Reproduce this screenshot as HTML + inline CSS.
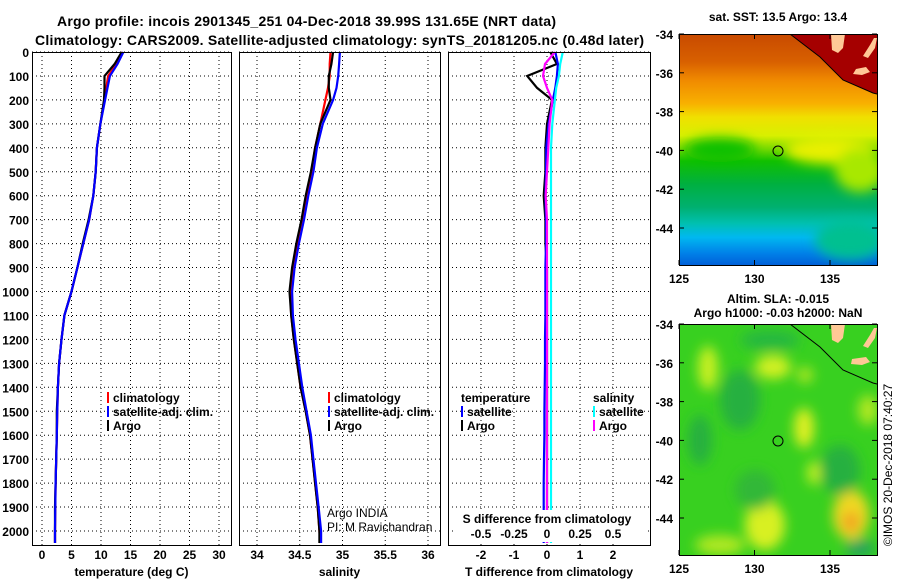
<!DOCTYPE html>
<html><head><meta charset="utf-8"><style>
body{margin:0;background:#fff;}
svg{display:block;font-family:"Liberation Sans",sans-serif;}
.b{font-weight:bold;}
</style></head><body>
<svg id="c" width="900" height="580" viewBox="0 0 900 580">
<defs>
<linearGradient id="sstg" x1="0" y1="0" x2="0" y2="1">
<stop offset="0" stop-color="#c84a00"/><stop offset="0.12" stop-color="#d86000"/>
<stop offset="0.2" stop-color="#f08a00"/><stop offset="0.3" stop-color="#f8b000"/>
<stop offset="0.36" stop-color="#f0e000"/><stop offset="0.44" stop-color="#d8f000"/>
<stop offset="0.5" stop-color="#70d800"/><stop offset="0.55" stop-color="#10c000"/>
<stop offset="0.65" stop-color="#00b040"/><stop offset="0.75" stop-color="#00b070"/>
<stop offset="0.82" stop-color="#00c0b0"/><stop offset="0.88" stop-color="#00b8f0"/>
<stop offset="0.95" stop-color="#0080e8"/><stop offset="1" stop-color="#0060d8"/>
</linearGradient>
<filter id="bl" x="-50%" y="-50%" width="200%" height="200%"><feGaussianBlur stdDeviation="6"/></filter>
<clipPath id="m1c"><rect x="679" y="34" width="198" height="231"/></clipPath>
<clipPath id="m2c"><rect x="679" y="324" width="198" height="231"/></clipPath>
</defs>
<g id="root"></g>
</svg>
<script>
const depths=[0,50,100,150,200,300,400,500,600,700,800,900,1000,1100,1200,1300,1400,1500,1600,1700,1800,1900,2000,2050];
const climTemp=[13.6,12.6,11.2,10.9,10.6,9.9,9.3,9.1,8.7,8.0,7.0,6.0,5.0,3.8,3.3,2.9,2.7,2.6,2.5,2.4,2.3,2.25,2.2,2.2];
const satTemp=[13.8,12.8,11.5,11.1,10.7,9.9,9.3,9.1,8.7,8.0,7.0,6.0,5.0,3.8,3.3,2.9,2.7,2.6,2.5,2.4,2.3,2.25,2.2,2.2];
const argoTemp=[13.5,12.3,10.6,10.6,10.5,9.9,9.3,9.1,8.7,7.9,6.9,6.0,5.0,3.8,3.3,2.9,2.7,2.5,2.5,2.4,2.3,2.2,2.2,2.2];
const climSal=[34.86,34.85,34.85,34.83,34.80,34.74,34.68,34.64,34.58,34.53,34.47,34.42,34.39,34.40,34.43,34.47,34.51,34.57,34.62,34.65,34.68,34.71,34.73,34.74];
const satSal=[34.97,34.96,34.95,34.93,34.89,34.77,34.70,34.66,34.60,34.55,34.49,34.44,34.41,34.42,34.45,34.49,34.53,34.58,34.63,34.66,34.69,34.72,34.75,34.75];
const argoSal=[34.89,34.87,34.84,34.84,34.86,34.74,34.68,34.63,34.57,34.52,34.46,34.41,34.38,34.40,34.43,34.47,34.51,34.57,34.62,34.65,34.68,34.71,34.73,34.73];
const tDiffArgo=[0.1,0.3,-0.6,-0.3,0.15,0.0,-0.05,-0.05,-0.1,-0.05,-0.05,0,0,0,0,0,0,0,0,0,0,0,0,0];
const tDiffSat=[0.25,0.33,0.3,0.25,0.18,0.05,-0.02,-0.03,-0.05,-0.03,-0.03,-0.05,-0.05,-0.05,-0.06,-0.06,-0.07,-0.08,-0.08,-0.09,-0.1,-0.1,-0.1,-0.1];
const sDiffArgo=[0.06,-0.015,-0.03,0.0,0.04,0.02,0.01,0.0,-0.01,0,0,0,0,0,0,0,0,0,0,0,0,0,0,0];
const sDiffSat=[0.12,0.1,0.09,0.07,0.06,0.04,0.03,0.03,0.03,0.03,0.03,0.03,0.03,0.03,0.03,0.03,0.03,0.03,0.03,0.03,0.03,0.03,0.03,0.03];
const depthTicks=[0,100,200,300,400,500,600,700,800,900,1000,1100,1200,1300,1400,1500,1600,1700,1800,1900,2000];
const tempTicks=[0,5,10,15,20,25,30];
const salTicks=[34,34.5,35,35.5,36];
const tdTicks=[-2,-1,0,1,2];
const sdTicks=[-0.5,-0.25,0,0.25,0.5];
const lonTicks=[125,130,135];
const latTicks=[-34,-36,-38,-40,-42,-44];

const NS='http://www.w3.org/2000/svg';
const root=document.getElementById('root');
function el(t,a,p){const e=document.createElementNS(NS,t);for(const k in a)e.setAttribute(k,a[k]);(p||root).appendChild(e);return e;}
function txt(s,x,y,size,anchor,bold,p){const e=el('text',{x:x,y:y,'font-size':size,'text-anchor':anchor||'start','font-weight':bold?'bold':'normal'},p);e.textContent=s;return e;}
const yD=d=>52+d*0.2395;
const PT=545;
const xT=v=>42+v*5.9, xS=v=>257+(v-34)*85.5, xTD=v=>547+v*33, xSD=v=>547+v*132;

let t=txt('Argo profile: incois 2901345_251 04-Dec-2018 39.99S 131.65E (NRT data)',57,26,14,'start',true);
t.setAttribute('textLength','499');

t=txt('Climatology: CARS2009. Satellite-adjusted climatology: synTS_20181205.nc (0.48d later)',35,45,14,'start',true);
t.setAttribute('textLength','609');


const yl=el('g',{});

depthTicks.forEach(d=>txt(String(d),29,yD(d)+5,12,'end',true,yl));

function panel(name,x0,x1,xf,ticks,series,xlabel,tickFmt){
  const g=el('g',{});
  
  ticks.forEach(v=>{const x=xf(v);el('line',{x1:x,y1:52,x2:x,y2:PT,stroke:'#000','stroke-width':1,'stroke-dasharray':'1 3'},g);});
  depthTicks.forEach(d=>{const y=yD(d);el('line',{x1:x0,y1:y,x2:x1,y2:y,stroke:'#000','stroke-width':1,'stroke-dasharray':'1 3'},g);});
  series.forEach(s=>{
    const pts=s.vals.map((v,i)=>s.f(v).toFixed(1)+','+yD(depths[i]).toFixed(1)).join(' ');
    const pl=el('polyline',{points:pts,fill:'none',stroke:s.c,'stroke-width':2.2},g);
    
  });
  el('rect',{x:x0+0.5,y:52.5,width:x1-x0,height:PT-52,fill:'none',stroke:'#000','stroke-width':1},g);
  if(xlabel){
    const tl=el('g',{},g);
    ticks.forEach(v=>txt(tickFmt?tickFmt(v):String(v),xf(v),559,12,'middle',true,tl));
    const xl=txt(xlabel,(x0+x1)/2,576,12,'middle',true,g);
    
  }
  return g;
}
panel('temperature-panel',32,231,xT,tempTicks,[
 {vals:climTemp,f:xT,c:'#ff0000',n:'temp-climatology-line'},
 {vals:argoTemp,f:xT,c:'#000',n:'temp-argo-line'},
 {vals:satTemp,f:xT,c:'#0000ff',n:'temp-satellite-line'}],'temperature (deg C)');
panel('salinity-panel',239,440,xS,salTicks,[
 {vals:climSal,f:xS,c:'#ff0000',n:'sal-climatology-line'},
 {vals:argoSal,f:xS,c:'#000',n:'sal-argo-line'},
 {vals:satSal,f:xS,c:'#0000ff',n:'sal-satellite-line'}],'salinity');
const dp=panel('difference-panel',448,650,xTD,tdTicks,[
 {vals:tDiffArgo,f:xTD,c:'#000',n:'tdiff-argo-line'},
 {vals:tDiffSat,f:xTD,c:'#0000ff',n:'tdiff-satellite-line'},
 {vals:sDiffSat,f:xSD,c:'#00ffff',n:'sdiff-satellite-line'},
 {vals:sDiffArgo,f:xSD,c:'#ff00ff',n:'sdiff-argo-line'}],'T difference from climatology');
const sdl=el('g',{});
el('rect',{x:455,y:510,width:190,height:32,fill:'#fff'},sdl);
txt('S difference from climatology',547,523,12,'middle',true,sdl);
sdTicks.forEach(v=>txt(String(v),xSD(v),538,12,'middle',true,sdl));

function legend(name,x,y,items){
  const g=el('g',{});
  items.forEach((it,i)=>{
    const yy=y+i*14;
    if(it.c) el('rect',{x:x,y:yy-10,width:2,height:11,fill:it.c},g);
    txt(it.t,x+(it.c?6:0),yy,12,'start',true,g);
  });
}
legend('temp-legend',107,402,[{c:'#f00',t:'climatology'},{c:'#00f',t:'satellite-adj. clim.'},{c:'#000',t:'Argo'}]);
legend('sal-legend',328,402,[{c:'#f00',t:'climatology'},{c:'#00f',t:'satellite-adj. clim.'},{c:'#000',t:'Argo'}]);
legend('tdiff-legend',461,402,[{c:null,t:'temperature'},{c:'#00f',t:'satellite'},{c:'#000',t:'Argo'}]);
legend('sdiff-legend',593,402,[{c:null,t:'salinity'},{c:'#0ff',t:'satellite'},{c:'#f0f',t:'Argo'}]);
const cr=el('g',{});
txt('Argo INDIA',327,517,12,'start',false,cr);
txt('PI: M Ravichandran',327,531,12,'start',false,cr);

const xL=v=>679+(v-125)*15.1;
function mapAxes(name,top,title1,title2){
  const g=el('g',{});
  el('rect',{x:679.5,y:top+0.5,width:198,height:231,fill:'none',stroke:'#000'},g);
  latTicks.forEach(l=>{const y=top+(-34-l)*19.4;el('line',{x1:679,y1:y,x2:684,y2:y,stroke:'#000'},g);el('line',{x1:872,y1:y,x2:877,y2:y,stroke:'#000'},g);txt(String(l),673,y+5,12,'end',true,g);});
  lonTicks.forEach(v=>{const x=xL(v);el('line',{x1:x,y1:top+231,x2:x,y2:top+226,stroke:'#000'},g);el('line',{x1:x,y1:top,x2:x,y2:top+5,stroke:'#000'},g);txt(String(v),x,top+249,12,'middle',true,g);});
  if(title2){txt(title1,778,top-21,12,'middle',true,g);txt(title2,778,top-7,12,'middle',true,g);}
  else txt(title1,778,top-13,12,'middle',true,g);
}
const m1=el('g',{'clip-path':'url(#m1c)'});
el('rect',{x:679,y:34,width:198,height:231,fill:'url(#sstg)'},m1);
const bl1=el('g',{filter:'url(#bl)'},m1);
el('ellipse',{cx:830,cy:150,rx:45,ry:14,fill:'#e8f000'},bl1);
el('ellipse',{cx:860,cy:170,rx:25,ry:22,fill:'#a8e800'},bl1);
el('ellipse',{cx:720,cy:150,rx:35,ry:12,fill:'#10c000'},bl1);
el('ellipse',{cx:850,cy:240,rx:35,ry:20,fill:'#00c090'},bl1);
el('polygon',{points:'790,34 820,57 843,80 873,93 877,94 877,34',fill:'#a50000'},m1);
el('polyline',{points:'790,34 820,57 843,80 873,93 877,94',fill:'none',stroke:'#000','stroke-width':1},m1);
el('polygon',{points:'831,34 845,34 843,48 838,53 832,50',fill:'#ffc896'},m1);
el('polygon',{points:'856,69 866,67 870,72 862,75 853,74',fill:'#ffc896'},m1);
el('polygon',{points:'863,56 870,45 874,38 877,38 875,48 868,58',fill:'#ffc896'},m1);
el('circle',{cx:778,cy:151,r:5,fill:'none',stroke:'#000'},m1);
mapAxes('sst-map',34,'sat. SST: 13.5 Argo: 13.4');
const m2=el('g',{'clip-path':'url(#m2c)'});
el('rect',{x:679,y:324,width:198,height:231,fill:'#38d020'},m2);
const bl2=el('g',{filter:'url(#bl)'},m2);
[[708,368,10,22,'#c8f020'],[773,367,18,12,'#d0f020'],[805,375,8,8,'#b0e820'],[804,428,10,20,'#e0f020'],[814,473,7,12,'#c0f020'],[765,525,20,25,'#d8f020'],[851,515,18,25,'#f0d820'],[851,522,8,10,'#f0a020'],[868,410,10,15,'#b0e820'],[720,545,25,10,'#b0e820'],
 [740,400,20,30,'#28b040'],[700,440,12,25,'#28b040'],[840,470,20,25,'#28b040'],[755,490,20,20,'#30b838'],[770,340,30,10,'#28b840'],[860,548,15,8,'#20a060']].forEach(b=>el('ellipse',{cx:b[0],cy:b[1],rx:b[2],ry:b[3],fill:b[4]},bl2));
el('polyline',{points:'790,324 820,347 843,370 873,383 877,384',fill:'none',stroke:'#000','stroke-width':1},m2);
el('polygon',{points:'831,324 845,324 843,338 838,343 832,340',fill:'#ffc896'},m2);
el('polygon',{points:'852,359 866,357 870,362 862,365 851,364',fill:'#ffc896'},m2);
el('polygon',{points:'863,346 870,335 874,328 877,328 875,338 868,348',fill:'#ffc896'},m2);
el('circle',{cx:778,cy:441,r:5,fill:'none',stroke:'#000'},m2);
mapAxes('sla-map',324,'Altim. SLA: -0.015','Argo h1000: -0.03 h2000: NaN');
const st=txt('©IMOS 20-Dec-2018 07:40:27',0,0,12,'middle',false);
st.setAttribute('transform','translate(892,465) rotate(-90)');

</script>
</body></html>
